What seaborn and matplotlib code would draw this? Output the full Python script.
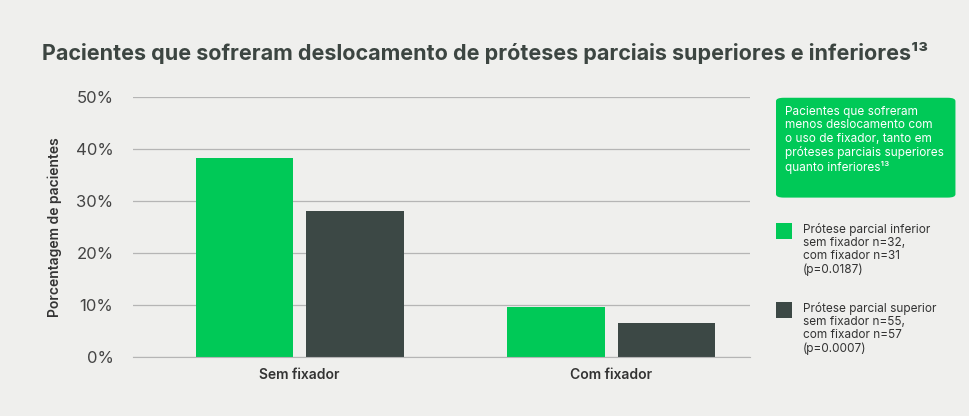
import pandas as pd
import matplotlib.pyplot as plt
import seaborn as sns
from matplotlib.patches import FancyBboxPatch

categorias = ["Sem fixador", "Com fixador"]
series = ["Prótese parcial inferior", "Prótese parcial superior"]
inferior = [38.3, 9.6]
superior = [28.1, 6.5]
yticks = [0, 10, 20, 30, 40, 50]

bg = "#efefed"
verde = "#00c957"
escuro = "#3c4845"

df = pd.DataFrame({
    "categoria": categorias * 2,
    "serie": [series[0]] * 2 + [series[1]] * 2,
    "valor": inferior + superior,
})

plt.rcParams["font.family"] = "Inter"
fig = plt.figure(figsize=(9.7, 4.16), dpi=100, facecolor=bg)
ax = fig.add_axes([0.137, 0.142, 0.636, 0.625], facecolor=bg)

sns.barplot(data=df, x="categoria", y="valor", hue="serie", palette=[verde, escuro],
            width=0.71, gap=0.12, legend=False, ax=ax, saturation=1)

ax.set_ylim(0, 50)
ax.set_yticks(yticks)
ax.set_yticklabels([f"{t}%" for t in yticks], fontsize=12, color="#444")
ax.yaxis.grid(True, color="#b5b5b5", linewidth=0.9)
ax.set_axisbelow(True)
for s in ["top", "right", "left"]:
    ax.spines[s].set_visible(False)
ax.spines["bottom"].set_color("#b5b5b5")
ax.tick_params(axis="both", length=0, pad=14)
ax.tick_params(axis="x", pad=8)
ax.set_xticklabels(categorias, fontsize=10, fontweight="semibold", color="#333")
ax.set_xlabel("")
ax.set_ylabel("Porcentagem de pacientes", fontsize=10, fontweight="semibold", color="#333", labelpad=10)
ax.set_xlim(-0.535, 1.445)

fig.text(0.5, 0.855, "Pacientes que sofreram deslocamento de próteses parciais superiores e inferiores¹³",
         ha="center", fontsize=15.5, fontweight="bold", color="#3c4541")

# caixa verde
box = FancyBboxPatch((0.800, 0.525), 0.185, 0.24, boxstyle="round,pad=0,rounding_size=0.008",
                     transform=fig.transFigure, facecolor=verde, edgecolor="none")
fig.patches.append(box)
fig.text(0.809, 0.745, "Pacientes que sofreram\nmenos deslocamento com\no uso de fixador, tanto em\npróteses parciais superiores\nquanto inferiores¹³",
         va="top", fontsize=8.5, color="white", linespacing=1.15)

legendas = [
    (verde, "Prótese parcial inferior\nsem fixador n=32,\ncom fixador n=31\n(p=0.0187)", 0.46),
    (escuro, "Prótese parcial superior\nsem fixador n=55,\ncom fixador n=57\n(p=0.0007)", 0.27),
]
for cor, txt, y in legendas:
    fig.patches.append(plt.Rectangle((0.800, y - 0.035), 0.017, 0.04, transform=fig.transFigure,
                                     facecolor=cor, edgecolor="none"))
    fig.text(0.828, y + 0.005, txt, va="top", fontsize=8.5, color="#333", linespacing=1.15)

fig.savefig("out.png", dpi=100, facecolor=bg)
